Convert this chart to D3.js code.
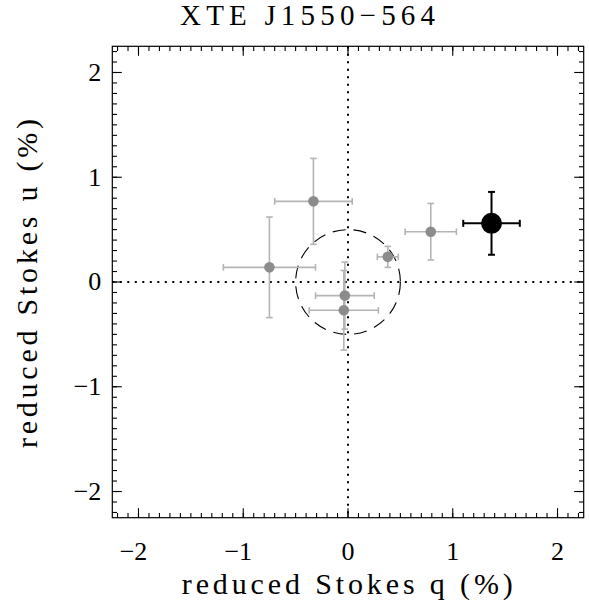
<!DOCTYPE html>
<html>
<head>
<meta charset="utf-8">
<script src="https://cdn.jsdelivr.net/npm/d3@7"></script>
<style>
	body { margin: 0; background: #fff; }
	svg text { font-family: "Liberation Serif", "DejaVu Serif", serif; fill: #000; }
</style>
</head>
<body>
<div id="chart"></div>
<script>
const title		= 'XTE J1550\u2212564';
const xLabel	= 'reduced Stokes q (%)';
const yLabel	= 'reduced Stokes u (%)';

// gray points: q, u and their errors (percent)
const q			= [-0.33, -0.75, -0.03, -0.04, 0.38, 0.79];
const u			= [0.77, 0.14, -0.13, -0.27, 0.24, 0.48];
const qErr		= [0.37, 0.44, 0.28, 0.33, 0.10, 0.245];
const uErr		= [0.41, 0.48, 0.32, 0.38, 0.10, 0.27];

// the highlighted (black) point
const qMain		= [1.37];
const uMain		= [0.56];
const qMainErr	= [0.27];
const uMainErr	= [0.30];

const majorTicks	= [-2, -1, 0, 1, 2];
const circleRadius	= 0.5;

const width		= 589;
const height	= 605;
let margin		= { top: 46.3, right: 5.3, bottom: 87.3, left: 112.3 };
let w			= width - margin.left - margin.right;
let h			= height - margin.top - margin.bottom;

let x	= d3.scaleLinear().domain([-2.25, 2.25]).range([0, w]);
let y	= d3.scaleLinear().domain([-2.25, 2.25]).range([h, 0]);

let svg = d3.select('#chart').append('svg')
	.attr('width', width)
	.attr('height', height);

let g = svg.append('g')
	.attr('transform', 'translate(' + margin.left + ',' + margin.top + ')');

// minor ticks every 0.1
let minor = d3.range(-22, 23).map((o) => (o / 10));

function drawTicks(vals, l) {
	let t = g.append('g').attr('stroke', '#000').attr('stroke-width', 1.1);
	// bottom and top
	t.append('g').selectAll('line').data(vals).enter().append('line')
		.attr('x1', (o) => x(o)).attr('x2', (o) => x(o))
		.attr('y1', h).attr('y2', h - l);
	t.append('g').selectAll('line').data(vals).enter().append('line')
		.attr('x1', (o) => x(o)).attr('x2', (o) => x(o))
		.attr('y1', 0).attr('y2', l);
	// left and right
	t.append('g').selectAll('line').data(vals).enter().append('line')
		.attr('y1', (o) => y(o)).attr('y2', (o) => y(o))
		.attr('x1', 0).attr('x2', l);
	t.append('g').selectAll('line').data(vals).enter().append('line')
		.attr('y1', (o) => y(o)).attr('y2', (o) => y(o))
		.attr('x1', w).attr('x2', w - l);
}

drawTicks(minor, 4.7);
drawTicks(majorTicks, 9.5);

// zero lines
g.append('line')
	.attr('x1', x(0)).attr('x2', x(0)).attr('y1', 0).attr('y2', h)
	.attr('stroke', '#000').attr('stroke-width', 2).attr('stroke-dasharray', '2,5.5');
g.append('line')
	.attr('x1', 0).attr('x2', w).attr('y1', y(0)).attr('y2', y(0))
	.attr('stroke', '#000').attr('stroke-width', 2).attr('stroke-dasharray', '2,5.5');

// dashed circle
g.append('circle')
	.attr('cx', x(0)).attr('cy', y(0))
	.attr('r', x(circleRadius) - x(0))
	.attr('fill', 'none').attr('stroke', '#000').attr('stroke-width', 1.1)
	.attr('stroke-dasharray', '13,8');

function errorBars(qs, us, qe, ue, color, sw, cap) {
	let eb = g.append('g').attr('stroke', color).attr('stroke-width', sw).attr('fill', 'none');
	qs.forEach((qq, i) => {
		let cx = x(qq), cy = y(us[i]);
		let x0 = x(qq - qe[i]), x1 = x(qq + qe[i]);
		let y0 = y(us[i] - ue[i]), y1 = y(us[i] + ue[i]);
		eb.append('line').attr('x1', x0).attr('x2', x1).attr('y1', cy).attr('y2', cy);
		eb.append('line').attr('x1', cx).attr('x2', cx).attr('y1', y0).attr('y2', y1);
		eb.append('line').attr('x1', x0).attr('x2', x0).attr('y1', cy - cap).attr('y2', cy + cap);
		eb.append('line').attr('x1', x1).attr('x2', x1).attr('y1', cy - cap).attr('y2', cy + cap);
		eb.append('line').attr('x1', cx - cap).attr('x2', cx + cap).attr('y1', y0).attr('y2', y0);
		eb.append('line').attr('x1', cx - cap).attr('x2', cx + cap).attr('y1', y1).attr('y2', y1);
	});
}

errorBars(q, u, qErr, uErr, '#b4b4b4', 1.6, 3.3);
g.append('g').selectAll('circle').data(q).enter().append('circle')
	.attr('cx', (o) => x(o))
	.attr('cy', (o, i) => y(u[i]))
	.attr('r', 5.3)
	.attr('fill', '#8c8c8c');

errorBars(qMain, uMain, qMainErr, uMainErr, '#000', 2, 3.5);
g.append('g').selectAll('circle').data(qMain).enter().append('circle')
	.attr('cx', (o) => x(o))
	.attr('cy', (o, i) => y(uMain[i]))
	.attr('r', 10.5)
	.attr('fill', '#000');

// frame
g.append('rect')
	.attr('width', w).attr('height', h)
	.attr('fill', 'none').attr('stroke', '#000').attr('stroke-width', 1.2);

// tick labels
let fmt = (o) => (o < 0 ? '\u2212' + Math.abs(o) : '' + o);
g.append('g').selectAll('text').data(majorTicks).enter().append('text')
	.attr('x', (o) => x(o) - (o < 0 ? 5 : 0))
	.attr('y', h + 42)
	.attr('text-anchor', 'middle')
	.attr('font-size', 26)
	.text(fmt);
g.append('g').selectAll('text').data(majorTicks).enter().append('text')
	.attr('x', -11)
	.attr('y', (o) => y(o) + 8.5)
	.attr('text-anchor', 'end')
	.attr('font-size', 26)
	.text(fmt);

// titles
svg.append('text')
	.attr('x', 307.5).attr('y', 25)
	.attr('text-anchor', 'middle')
	.attr('font-size', 29)
	.attr('textLength', 255).attr('lengthAdjust', 'spacing')
	.text(title);

svg.append('text')
	.attr('x', 347.3).attr('y', 594)
	.attr('text-anchor', 'middle')
	.attr('font-size', 30)
	.attr('textLength', 331).attr('lengthAdjust', 'spacing')
	.text(xLabel);

svg.append('text')
	.attr('transform', 'translate(37,283.5) rotate(-90)')
	.attr('text-anchor', 'middle')
	.attr('font-size', 30)
	.attr('textLength', 329).attr('lengthAdjust', 'spacing')
	.text(yLabel);
</script>
</body>
</html>
